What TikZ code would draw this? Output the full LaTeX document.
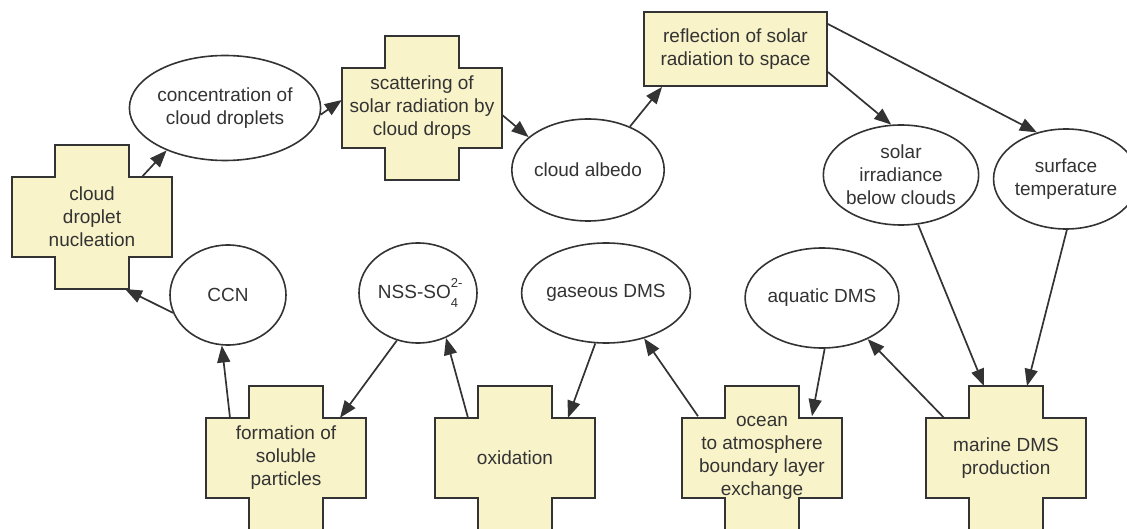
\documentclass[tikz,border=0pt]{standalone}
\usepackage{fontspec}
\setmainfont{Liberation Sans}
\usetikzlibrary{shapes.geometric,arrows.meta}

\definecolor{paleyellow}{HTML}{F8F3C9}
\definecolor{inkgray}{HTML}{333333}

% cross-shaped process box: name, centre, text
\newcommand{\crossnode}[3]{%
  \filldraw[crossline] (#2) ++(-80,-40) -- ++(43,0) -- ++(0,-32) -- ++(74,0) -- ++(0,32) -- ++(43,0)
    -- ++(0,80) -- ++(-43,0) -- ++(0,32) -- ++(-74,0) -- ++(0,-32) -- ++(-43,0) -- cycle;
  \node[crosstext] (#1) at (#2) {#3};
  \coordinate (#1-t) at ([yshift=72pt]#1.center);
  \coordinate (#1-b) at ([yshift=-72pt]#1.center);}

\begin{document}
\begin{tikzpicture}[x=1pt,y=-1pt,
    every node/.style={font=\fontsize{19}{23}\selectfont, text=inkgray, align=center, inner sep=0pt},
    crossline/.style={draw=inkgray, fill=paleyellow, line width=1.8pt, line join=miter},
    crosstext/.style={minimum width=160, minimum height=80},
    state/.style={ellipse, draw=inkgray, line width=1.6pt, fill=white},
    rbox/.style={rectangle, draw=inkgray, fill=paleyellow, line width=1.8pt},
    link/.style={draw=inkgray, line width=1.7pt, -{Triangle[length=17pt,width=13pt]}}]
  \useasboundingbox (0,0) rectangle (1127,529);

  % top row
  \crossnode{nuc}{92,217}{cloud\\droplet\\nucleation}
  \node[state, minimum width=162, minimum height=105] (conc) at (225,108) {concentration of\\cloud droplets};
  \crossnode{scat}{422,108}{scattering of\\solar radiation by\\cloud drops}
  \node[state, minimum width=124, minimum height=102] (albedo) at (588,170) {cloud albedo};
  \node[rbox, minimum width=183, minimum height=74] (refl) at (735.5,49) {reflection of solar\\radiation to space};
  \node[state, minimum width=138, minimum height=100] (irrad) at (901,175) {solar\\irradiance\\below clouds};
  \node[state, minimum width=120, minimum height=100] (surft) at (1066,179) {surface\\temperature};

  % bottom row
  \node[state, minimum width=116, minimum height=100] (ccn) at (228,295) {CCN};
  \node[state, minimum width=118, minimum height=100] (nss) at (418,293)
    {NSS-SO\makebox[0pt][l]{\raisebox{1.1ex}{\fontsize{13}{13}\selectfont 2-}}\raisebox{-0.9ex}{\fontsize{13}{13}\selectfont 4}};
  \node[state, minimum width=142, minimum height=100] (gdms) at (606,293) {gaseous DMS};
  \node[state, minimum width=120, minimum height=100] (adms) at (822,298) {aquatic DMS};
  \crossnode{form}{286,458}{formation of\\soluble\\particles}
  \crossnode{ox}{515,458}{oxidation}
  \crossnode{ocean}{762,458}{ocean\\to atmosphere\\boundary layer\\exchange}
  \crossnode{marine}{1006,458}{marine DMS\\production}

  % links
  \draw[link] ([xshift=50pt]nuc.north) -- (conc.216);
  \draw[link] (conc.-4) -- ([yshift=8pt]scat.west);
  \draw[link] ([yshift=-7pt]scat.east) -- (albedo.151);
  \draw[link] (albedo.46) -- ([xshift=19pt]refl.south west);
  \draw[link] ([yshift=-23pt]refl.east) -- (irrad.101);
  \draw[link] ([yshift=25pt]refl.east) -- (surft.122);
  \draw[link] (irrad.-71) -- ([xshift=-22pt]marine-t);
  \draw[link] (surft.-89) -- ([xshift=21pt]marine-t);
  \draw[link] ([xshift=-62pt]marine.north) -- (adms.-42);
  \draw[link] (adms.-87) -- ([xshift=50pt]ocean.north);
  \draw[link] ([xshift=-64pt]ocean.north) -- (gdms.-50);
  \draw[link] (gdms.-102) -- ([xshift=53pt]ox.north);
  \draw[link] ([xshift=-47pt]ox.north) -- (nss.-58);
  \draw[link] (nss.-114) -- ([xshift=54pt]form.north);
  \draw[link] ([xshift=-56pt]form.north) -- (ccn.-97);
  \draw[link] (ccn.198) -- ([xshift=33pt]nuc-b);
\end{tikzpicture}
\end{document}
